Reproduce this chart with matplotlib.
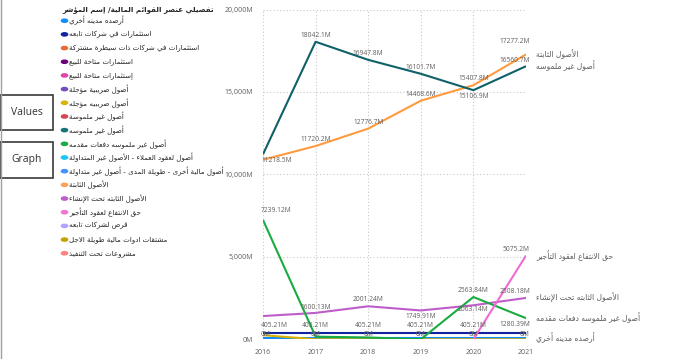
import matplotlib
matplotlib.use("Agg")
import matplotlib.pyplot as plt
from matplotlib.patches import Rectangle

# ---- Arabic shaping (matplotlib has no bidi/shaping of its own) ----
FORMS = {
    'ء': (0xFE80, 1), 'آ': (0xFE81, 2), 'أ': (0xFE83, 2), 'ؤ': (0xFE85, 2),
    'إ': (0xFE87, 2), 'ئ': (0xFE89, 4), 'ا': (0xFE8D, 2), 'ب': (0xFE8F, 4),
    'ة': (0xFE93, 2), 'ت': (0xFE95, 4), 'ث': (0xFE99, 4), 'ج': (0xFE9D, 4),
    'ح': (0xFEA1, 4), 'خ': (0xFEA5, 4), 'د': (0xFEA9, 2), 'ذ': (0xFEAB, 2),
    'ر': (0xFEAD, 2), 'ز': (0xFEAF, 2), 'س': (0xFEB1, 4), 'ش': (0xFEB5, 4),
    'ص': (0xFEB9, 4), 'ض': (0xFEBD, 4), 'ط': (0xFEC1, 4), 'ظ': (0xFEC5, 4),
    'ع': (0xFEC9, 4), 'غ': (0xFECD, 4), 'ف': (0xFED1, 4), 'ق': (0xFED5, 4),
    'ك': (0xFED9, 4), 'ل': (0xFEDD, 4), 'م': (0xFEE1, 4), 'ن': (0xFEE5, 4),
    'ه': (0xFEE9, 4), 'و': (0xFEED, 2), 'ى': (0xFEEF, 2), 'ي': (0xFEF1, 4),
}
LAM_ALEF = {'آ': 0xFEF5, 'أ': 0xFEF7, 'إ': 0xFEF9, 'ا': 0xFEFB}


def shape(text):
    units = []
    i = 0
    while i < len(text):
        c = text[i]
        if c == 'ل' and i + 1 < len(text) and text[i + 1] in LAM_ALEF:
            units.append(('LA', LAM_ALEF[text[i + 1]]))
            i += 2
        else:
            units.append(('C', c))
            i += 1
    out = []
    for k, (kind, v) in enumerate(units):
        if kind == 'LA':
            base, n = v, 2
        elif v in FORMS:
            base, n = FORMS[v]
        else:
            out.append(v)
            continue
        prev = units[k - 1] if k > 0 else None
        nxt = units[k + 1] if k + 1 < len(units) else None
        jp = prev is not None and prev[0] == 'C' and prev[1] in FORMS and FORMS[prev[1]][1] == 4
        jn = n == 4 and nxt is not None and (nxt[0] == 'LA' or (nxt[1] in FORMS and FORMS[nxt[1]][1] > 1))
        if n == 1:
            f = 0
        elif jp and jn:
            f = 3
        elif jp:
            f = 1
        elif jn:
            f = 2
        else:
            f = 0
        out.append(chr(base + f))
    return ''.join(reversed(out))


# ---- data (M) ----
years = [2016, 2017, 2018, 2019, 2020, 2021]
intangible = [11218.53, 18042.13, 16947.81, 16101.72, 15106.94, 16560.70]
fixed_assets = [10890, 11720.16, 12776.72, 14468.56, 15407.79, 17277.20]
intangible_adv = [7239.12, 160, 110, 0, 2563.84, 1280.39]
under_construction = [1410, 1600.13, 2001.24, 1749.91, 2063.14, 2508.18]
right_of_use = [None, None, None, None, 0, 5075.20]
subsidiaries = [405.21, 405.21, 405.21, 405.21, 405.21, 405.21]
other_receivables = [70, 70, 70, 70, 70, 70]
other_financial = [30, 30, 30, 30, 30, 30]
deferred_tax = [250, 0, 0, 0, 0, 0]
projects = [0, 0, 0, 0, 0, 0]

legend_title = 'تفصيلي عنصر القوائم المالية/ إسم المؤشر'
legend_names = [
    'أرصده مدينه أخري', 'استثمارات في شركات تابعه', 'استثمارات في شركات ذات سيطرة مشتركة',
    'استثمارات متاحة للبيع', 'إستثمارات متاحة للبيع', 'أصول ضريبية مؤجلة', 'أصول ضريبيه مؤجله',
    'أصول غير ملموسة', 'أصول غير ملموسه', 'أصول غير ملموسه دفعات مقدمه',
    'أصول لعقود العملاء - الأصول غير المتداولة',
    'أصول مالية أخرى - طويلة المدى - أصول غير متداولة', 'الأصول الثابتة',
    'الأصول الثابته تحت الإنشاء', 'حق الانتفاع لعقود التأجير', 'قرض لشركات تابعه',
    'مشتقات ادوات مالية طويلة الاجل', 'مشروعات تحت التنفيذ',
]
legend_colors = ['#118DFF', '#12239E', '#E66C37', '#6B007B', '#E044A7', '#744EC2', '#D9B300',
                 '#D64550', '#197278', '#1AAB40', '#15C6F4', '#4092FF', '#FFA058', '#BE5DC9',
                 '#F472D0', '#B5A1FF', '#C4A200', '#FF8080']

W, H = 690, 359
fig = plt.figure(figsize=(W / 100, H / 100), dpi=100)
fig.patch.set_facecolor('white')


def fx(x):
    return x / W


def fy(y):
    return 1 - y / H


ax = fig.add_axes([fx(263), fy(339.3), fx(526) - fx(263), fy(9.5) - fy(339.3)])
ax.set_xlim(2016, 2021)
ax.set_ylim(0, 20000)
for s in ax.spines.values():
    s.set_visible(False)
ax.set_xticks(years)
ax.set_yticks([0, 5000, 10000, 15000, 20000])
ax.set_yticklabels(['0M', '5,000M', '10,000M', '15,000M', '20,000M'])
ax.tick_params(length=0, labelsize=5, labelcolor='#605E5C', pad=7)
for lab in ax.get_xticklabels() + ax.get_yticklabels():
    lab.set_fontfamily('Open Sans')
ax.grid(True, color='#C8C8C8', linestyle=(0, (1, 2)), linewidth=0.8)
ax.set_axisbelow(True)

lines = [
    (projects, '#FF8080'), (other_financial, '#4092FF'), (other_receivables, '#118DFF'),
    (deferred_tax, '#D9B300'), (subsidiaries, '#12239E'), (under_construction, '#BE5DC9'),
    (intangible_adv, '#1AAB40'), (right_of_use, '#F06AD6'), (fixed_assets, '#FF9A3E'),
    (intangible, '#0E6168'),
]
for vals, col in lines:
    xs = [y for y, v in zip(years, vals) if v is not None]
    vs = [v for v in vals if v is not None]
    ax.plot(xs, vs, color=col, lw=1.5, solid_capstyle='butt')


def lbl(vals, i, dy, text=None, ha=None):
    v = vals[i]
    if text is None:
        text = f'{v:g}M'
    if ha is None:
        ha = 'left' if i == 0 else ('right' if i == 5 else 'center')
    dx = {'left': -2, 'right': 4, 'center': 0}[ha]
    ax.annotate(text, (years[i], v), xytext=(dx, dy), textcoords='offset pixels',
                ha=ha, va='bottom' if dy >= 0 else 'top', fontsize=4.8,
                color='#605E5C', family='Open Sans', annotation_clip=False)


lbl(intangible, 0, -3)
for i in (1, 2, 3):
    lbl(intangible, i, 3)
lbl(intangible, 4, -3)
lbl(intangible, 5, 2)
for i in (1, 2, 3, 4):
    lbl(fixed_assets, i, 3)
lbl(fixed_assets, 5, 9)
lbl(intangible_adv, 0, 6)
lbl(intangible_adv, 4, 3)
lbl(intangible_adv, 5, -3)
lbl(under_construction, 1, 2)
lbl(under_construction, 2, 3)
lbl(under_construction, 3, -3)
lbl(under_construction, 4, -1)
lbl(under_construction, 5, 3)
lbl(right_of_use, 5, 3)
for i in range(5):
    lbl(subsidiaries, i, 4)
for i in range(6):
    lbl(projects, i, 1, text='0M')

end_labels = [
    (fixed_assets, 'الأصول الثابتة'), (intangible, 'أصول غير ملموسه'),
    (right_of_use, 'حق الانتفاع لعقود التأجير'), (under_construction, 'الأصول الثابته تحت الإنشاء'),
    (intangible_adv, 'أصول غير ملموسه دفعات مقدمه'), (other_receivables, 'أرصده مدينه أخري'),
]
for vals, name in end_labels:
    ax.annotate(shape(name), (2021, vals[-1]), xytext=(10, 0), textcoords='offset pixels',
                ha='left', va='center', fontsize=5.5, color='#605E5C',
                family='DejaVu Sans', annotation_clip=False)

# ---- legend ----
fig.text(fx(62), fy(10), shape(legend_title), fontsize=5.1, fontweight='bold',
         color='#252423', ha='left', va='center', family='DejaVu Sans')
for k, (name, col) in enumerate(zip(legend_names, legend_colors)):
    yy = 20.7 + k * 13.68
    fig.patches.append(plt.Circle((fx(64.5), fy(yy)), 0.0045, transform=fig.transFigure,
                                  color=col, figure=fig))
    fig.text(fx(69), fy(yy), shape(name), fontsize=5.1, color='#252423', ha='left',
             va='center', family='DejaVu Sans')

# ---- left buttons ----
fig.add_artist(plt.Line2D([fx(0.8), fx(0.8)], [0, 1], color='#A0A0A0', lw=1))
for label, y0, y1 in (('Values', 95, 130), ('Graph', 142, 178)):
    fig.add_artist(Rectangle((fx(0), fy(y1)), fx(53), fy(y0) - fy(y1), fill=False,
                             edgecolor='#3A3A3A', lw=1.2, transform=fig.transFigure))
    fig.text(fx(27), fy((y0 + y1) / 2), label, fontsize=7.5, color='#333333',
             ha='center', va='center', family='Open Sans')

fig.savefig('out.png', dpi=100)
